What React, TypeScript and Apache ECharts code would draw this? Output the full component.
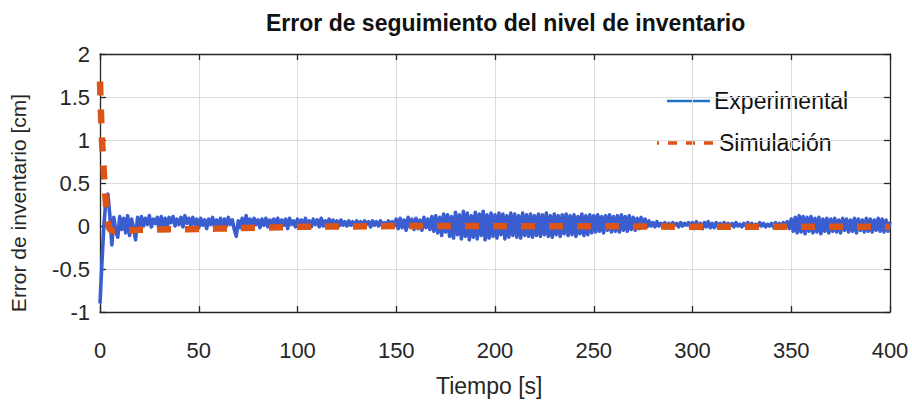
import React, { useEffect, useRef } from "react";
import * as echarts from "echarts";

// Etiquetas y ejes
const titulo = "Error de seguimiento del nivel de inventario";
const ejeX = "Tiempo [s]";
const ejeY = "Error de inventario [cm]";
const nombresSeries = ["Experimental", "Simulación"];

const xMin = 0;
const xMax = 400;
const xPaso = 50;
const yMin = -1;
const yMax = 2;
const yPaso = 0.5;

// Error medido, una muestra por segundo (t = 0 ... 400 s)
const periodoMuestreo = 1;
const experimental = [
  -0.90, -0.42, 0.02, 0.30, 0.37, 0.12, -0.22, 0.10, -0.06, -0.13,
  0.11, -0.04, 0.09, -0.08, 0.12, -0.11, 0.08, -0.02, -0.16, 0.10,
  -0.01, 0.11, 0.00, 0.09, 0.02, 0.12, -0.01, 0.08, 0.03, 0.10,
  -0.05, 0.11, 0.01, 0.09, -0.02, 0.10, 0.04, 0.11, 0.00, 0.08,
  0.02, 0.10, -0.01, 0.12, 0.03, 0.09, 0.00, 0.10, 0.02, 0.08,
  -0.02, 0.09, 0.01, 0.07, -0.03, 0.08, 0.02, 0.10, -0.01, 0.07,
  0.01, 0.09, -0.02, 0.08, 0.00, 0.10, 0.02, 0.07, -0.04, -0.12,
  0.06, -0.02, 0.09, 0.01, 0.12, 0.00, 0.08, -0.01, 0.09, 0.02,
  0.07, -0.02, 0.08, 0.01, 0.09, -0.01, 0.07, 0.02, 0.08, 0.00,
  0.09, -0.02, 0.07, 0.01, 0.08, -0.03, 0.09, 0.02, 0.06, -0.01,
  0.08, 0.00, 0.07, -0.02, 0.09, 0.01, 0.06, -0.01, 0.08, 0.02,
  0.07, -0.01, 0.09, 0.00, 0.06, 0.02, 0.08, -0.02, 0.07, 0.01,
  0.06, 0.00, 0.07, 0.01, 0.05, 0.00, 0.06, 0.01, 0.05, -0.01,
  0.06, 0.01, 0.05, 0.00, 0.06, 0.02, 0.05, -0.01, 0.06, 0.01,
  0.05, 0.00, 0.06, 0.01, 0.04, -0.01, 0.06, 0.02, 0.05, 0.00,
  0.08, -0.03, 0.09, -0.02, 0.07, -0.05, 0.10, -0.01, 0.08, -0.04,
  0.09, -0.03, 0.07, -0.05, 0.10, -0.02, 0.08, -0.04, 0.11, -0.06,
  0.12, -0.08, 0.10, -0.11, 0.14, -0.07, 0.13, -0.12, 0.11, -0.14,
  0.16, -0.10, 0.13, -0.15, 0.17, -0.12, 0.15, -0.16, 0.12, -0.13,
  0.16, -0.15, 0.14, -0.11, 0.17, -0.16, 0.13, -0.14, 0.15, -0.12,
  0.13, -0.14, 0.15, -0.10, 0.14, -0.15, 0.12, -0.13, 0.15, -0.11,
  0.14, -0.13, 0.12, -0.14, 0.15, -0.11, 0.13, -0.12, 0.14, -0.13,
  0.12, -0.11, 0.14, -0.12, 0.13, -0.10, 0.15, -0.12, 0.12, -0.13,
  0.14, -0.10, 0.12, -0.12, 0.13, -0.09, 0.14, -0.11, 0.12, -0.10,
  0.13, -0.12, 0.11, -0.09, 0.14, -0.11, 0.12, -0.10, 0.13, -0.08,
  0.12, -0.07, 0.13, -0.06, 0.11, -0.08, 0.12, -0.05, 0.13, -0.07,
  0.11, -0.06, 0.12, -0.07, 0.13, -0.05, 0.11, -0.06, 0.12, -0.04,
  0.10, -0.05, 0.09, -0.03, 0.10, -0.02, 0.08, -0.01, 0.06, 0.00,
  0.04, -0.01, 0.05, 0.00, 0.03, 0.01, 0.04, -0.01, 0.03, 0.00,
  0.04, 0.01, 0.03, -0.01, 0.04, 0.00, 0.03, 0.01, 0.04, -0.01,
  0.04, -0.03, 0.05, -0.02, 0.03, -0.03, 0.04, -0.01, 0.05, -0.02,
  0.03, -0.02, 0.04, -0.01, 0.03, 0.00, 0.04, -0.01, 0.03, 0.00,
  0.03, -0.01, 0.04, 0.00, 0.02, -0.01, 0.03, 0.00, 0.04, -0.01,
  0.03, 0.00, 0.02, -0.01, 0.04, 0.00, 0.03, -0.01, 0.02, 0.00,
  0.03, -0.01, 0.04, 0.00, 0.03, -0.02, 0.04, -0.01, 0.05, -0.03,
  0.08, -0.06, 0.10, -0.08, 0.12, -0.07, 0.11, -0.09, 0.10, -0.06,
  0.11, -0.08, 0.09, -0.07, 0.10, -0.09, 0.08, -0.06, 0.09, -0.08,
  0.08, -0.06, 0.09, -0.07, 0.07, -0.08, 0.09, -0.05, 0.08, -0.07,
  0.07, -0.06, 0.09, -0.08, 0.08, -0.05, 0.07, -0.07, 0.09, -0.06,
  0.08, -0.07, 0.07, -0.05, 0.09, -0.06, 0.08, -0.07, 0.07, -0.06,
  0.05,
];

// Respuesta simulada del modelo
const simTiempo = [0, 0.5, 1, 1.5, 2, 2.5, 3, 3.5, 4, 5, 7, 12, 20, 60, 100, 150, 170, 280, 300, 400];
const simValor = [1.68, 1.3, 1.0, 0.8, 0.6, 0.42, 0.26, 0.12, 0.03, -0.04, -0.06, -0.055, -0.045, -0.03, -0.01, 0.0, 0.0, -0.005, -0.01, -0.01];

const colorExp = "#3a5dd0";
const colorExpLeyenda = "#1f72c6";
const colorSim = "#dc5416";
const colorTexto = "#262626";
const fuente = "'Liberation Sans', Arial, sans-serif";

export default function App() {
  const ref = useRef<HTMLDivElement>(null);

  useEffect(() => {
    if (!ref.current) return;
    const chart = echarts.init(ref.current, null, { renderer: "svg" });

    const datosExp = experimental.map((v, i) => [i * periodoMuestreo, v]);
    const datosSim = simTiempo.map((t, i) => [t, simValor[i]]);

    const lineaEje = { show: true, onZero: false, lineStyle: { color: colorTexto, width: 1.3 } };
    const marcas = { show: true, inside: true, length: 6, lineStyle: { color: colorTexto, width: 1.3 } };
    const rejilla = { show: true, lineStyle: { color: "#dcdcdc", width: 1 } };
    const etiquetas = { color: colorTexto, fontSize: 22, fontFamily: fuente };

    chart.setOption({
      animation: false,
      backgroundColor: "#ffffff",
      title: {
        text: titulo,
        left: 261,
        top: 6,
        textStyle: { fontSize: 23, fontWeight: "bold", color: "#111", fontFamily: fuente },
      },
      grid: { left: 100, right: 22, top: 54, bottom: 103 },
      xAxis: [
        {
          type: "value", min: xMin, max: xMax, interval: xPaso, position: "bottom",
          axisLine: lineaEje, axisTick: marcas, splitLine: rejilla,
          axisLabel: { ...etiquetas, margin: 27 },
        },
        {
          type: "value", min: xMin, max: xMax, interval: xPaso, position: "top",
          axisLine: lineaEje, axisTick: marcas, splitLine: { show: false },
          axisLabel: { show: false },
        },
      ],
      yAxis: [
        {
          type: "value", min: yMin, max: yMax, interval: yPaso, position: "left",
          axisLine: lineaEje, axisTick: marcas, splitLine: rejilla,
          axisLabel: { ...etiquetas, margin: 10 },
        },
        {
          type: "value", min: yMin, max: yMax, interval: yPaso, position: "right",
          axisLine: lineaEje, axisTick: marcas, splitLine: { show: false },
          axisLabel: { show: false },
        },
      ],
      series: [
        {
          name: nombresSeries[0], type: "line", data: datosExp, showSymbol: false,
          xAxisIndex: 0, yAxisIndex: 0,
          lineStyle: { color: colorExp, width: 3.6, join: "round" }, z: 2,
        },
        {
          name: nombresSeries[1], type: "line", data: datosSim, showSymbol: false,
          xAxisIndex: 0, yAxisIndex: 0,
          lineStyle: { color: colorSim, width: 6.5, type: [14, 14], cap: "butt" }, z: 3,
        },
      ],
      graphic: [
        {
          type: "text", left: 436, top: 374,
          style: { text: ejeX, fontSize: 23, fill: colorTexto, fontFamily: fuente },
        },
        {
          type: "text", x: 18, y: 203, rotation: Math.PI / 2,
          style: {
            text: ejeY, fontSize: 21, fill: colorTexto, fontFamily: fuente,
            align: "center", verticalAlign: "middle",
          },
        },
        // leyenda
        {
          type: "line", shape: { x1: 667, y1: 101, x2: 710, y2: 101 },
          style: { stroke: colorExpLeyenda, lineWidth: 2.5 },
        },
        {
          type: "text", x: 714, y: 101,
          style: { text: nombresSeries[0], fontSize: 23, fill: "#111", fontFamily: fuente, verticalAlign: "middle" },
        },
        {
          type: "line", shape: { x1: 657, y1: 143, x2: 714, y2: 143 },
          style: { stroke: colorSim, lineWidth: 3.5, lineDash: [9, 9], lineDashOffset: 7 },
        },
        {
          type: "text", x: 719, y: 143,
          style: { text: nombresSeries[1], fontSize: 23, fill: "#111", fontFamily: fuente, verticalAlign: "middle" },
        },
      ],
    });

    return () => chart.dispose();
  }, []);

  return <div ref={ref} style={{ width: 912, height: 415, position: "absolute", left: 0, top: 0 }} />;
}
